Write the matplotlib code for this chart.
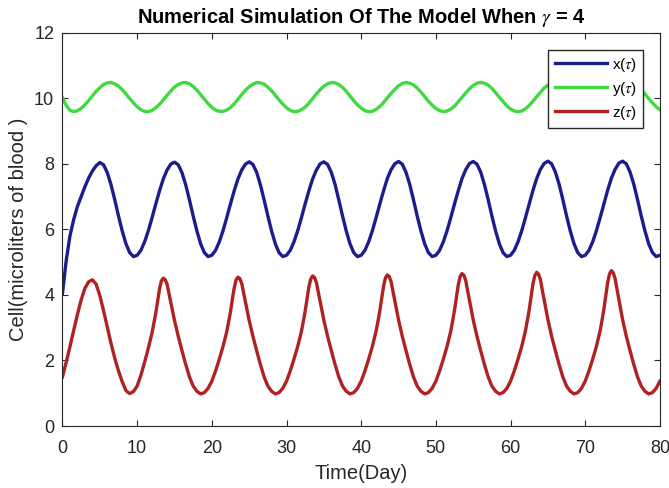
import numpy as np
import matplotlib
matplotlib.use("Agg")
import matplotlib.pyplot as plt

plt.rcParams["font.family"] = ["Liberation Sans", "DejaVu Sans"]
plt.rcParams["mathtext.fontset"] = "stix"

# time grid (days), one sample every half day
t = np.arange(0, 80.5, 0.5)

# x(tau)
x_vals = [4.05, 5.05, 5.80, 6.30, 6.70, 7.00, 7.30, 7.56, 7.78, 7.94, 8.04,
          7.97, 7.73, 7.36, 6.90, 6.41, 5.95, 5.56, 5.29, 5.17, 5.21, 5.36, 5.62, 5.96, 6.36, 6.78, 7.18, 7.54, 7.81, 7.99, 8.05,
          7.97, 7.73, 7.36, 6.90, 6.41, 5.95, 5.56, 5.29, 5.17, 5.21, 5.36, 5.62, 5.96, 6.36, 6.78, 7.18, 7.54, 7.81, 7.99, 8.06,
          7.98, 7.74, 7.36, 6.90, 6.41, 5.95, 5.56, 5.29, 5.17, 5.21, 5.36, 5.62, 5.96, 6.36, 6.78, 7.18, 7.54, 7.81, 8.00, 8.06,
          7.98, 7.74, 7.37, 6.90, 6.41, 5.95, 5.56, 5.29, 5.17, 5.21, 5.36, 5.62, 5.96, 6.36, 6.78, 7.18, 7.55, 7.82, 8.00, 8.07,
          7.99, 7.74, 7.37, 6.90, 6.41, 5.95, 5.56, 5.29, 5.17, 5.21, 5.36, 5.62, 5.96, 6.36, 6.78, 7.18, 7.55, 7.82, 8.01, 8.07,
          7.99, 7.75, 7.37, 6.91, 6.41, 5.95, 5.56, 5.29, 5.17, 5.21, 5.36, 5.62, 5.96, 6.36, 6.78, 7.19, 7.55, 7.83, 8.01, 8.08,
          8.00, 7.75, 7.38, 6.91, 6.41, 5.95, 5.56, 5.29, 5.17, 5.21, 5.36, 5.62, 5.96, 6.36, 6.78, 7.19, 7.56, 7.83, 8.02, 8.08,
          8.00, 7.75, 7.38, 6.91, 6.41, 5.95, 5.56, 5.29, 5.17, 5.21]

# y(tau) - green curve
y_vals = [10.02, 9.78, 9.63,
          9.59, 9.62, 9.69, 9.80, 9.93, 10.07, 10.21, 10.32, 10.42, 10.47, 10.48, 10.44, 10.37, 10.26, 10.13, 9.99, 9.86, 9.74, 9.65, 9.60,
          9.59, 9.63, 9.71, 9.82, 9.95, 10.09, 10.22, 10.34, 10.42, 10.47, 10.48, 10.44, 10.36, 10.25, 10.11, 9.97, 9.84, 9.72, 9.64, 9.60,
          9.60, 9.64, 9.72, 9.83, 9.97, 10.11, 10.24, 10.35, 10.43, 10.48, 10.47, 10.43, 10.34, 10.23, 10.09, 9.95, 9.82, 9.71, 9.63, 9.59,
          9.60, 9.65, 9.73, 9.85, 9.99, 10.13, 10.26, 10.37, 10.44, 10.48, 10.47, 10.42, 10.33, 10.21, 10.07, 9.93, 9.80, 9.70, 9.62, 9.59,
          9.60, 9.66, 9.75, 9.87, 10.01, 10.15, 10.27, 10.38, 10.45, 10.48, 10.46, 10.41, 10.31, 10.19, 10.05, 9.91, 9.79, 9.69, 9.62, 9.59,
          9.61, 9.67, 9.76, 9.89, 10.03, 10.16, 10.29, 10.39, 10.46, 10.48, 10.46, 10.40, 10.30, 10.17, 10.03, 9.90, 9.77, 9.67, 9.61, 9.59,
          9.61, 9.68, 9.78, 9.91, 10.05, 10.18, 10.31, 10.40, 10.46, 10.48, 10.45, 10.38, 10.28, 10.15, 10.01, 9.88, 9.76, 9.66, 9.60, 9.59,
          9.62, 9.69, 9.80, 9.93, 10.06, 10.20, 10.32, 10.41, 10.47, 10.48, 10.44, 10.37, 10.26, 10.13, 9.99, 9.86, 9.74, 9.65]

# z(tau) - red curve, extra quarter-day readings around the narrow peaks
z_peaks = [13.5, 23.5, 33.5, 43.5, 53.5, 63.5, 73.5]
z_extra = [p + d for p in z_peaks for d in (-1.25, -0.75, -0.25, 0.25, 0.75, 1.25)]
z_t = np.sort(np.concatenate([t, z_extra]))
z_vals = [1.50, 1.95, 2.42, 2.92, 3.40, 3.85, 4.20, 4.40, 4.46, 4.33, 3.98, 3.52, 3.02, 2.52, 2.07, 1.68, 1.35, 1.08, 0.99, 1.05,
          1.22, 1.55, 1.95, 2.38, 2.85, 3.15, 3.46, 3.83, 4.19, 4.43, 4.51,
          4.47, 4.33, 4.05, 3.78, 3.50, 3.22, 2.74, 2.30, 1.88, 1.50, 1.22, 1.06, 0.98, 1.02, 1.15, 1.37, 1.68, 2.04, 2.43, 2.88, 3.18, 3.49, 3.87, 4.22, 4.46, 4.54,
          4.50, 4.35, 4.07, 3.79, 3.51, 3.22, 2.74, 2.30, 1.88, 1.50, 1.22, 1.06, 0.98, 1.02, 1.15, 1.37, 1.68, 2.04, 2.43, 2.89, 3.19, 3.51, 3.89, 4.25, 4.49, 4.58,
          4.53, 4.38, 4.09, 3.81, 3.52, 3.23, 2.74, 2.30, 1.88, 1.50, 1.22, 1.06, 0.98, 1.02, 1.15, 1.37, 1.68, 2.04, 2.43, 2.90, 3.20, 3.52, 3.91, 4.28, 4.52, 4.61,
          4.56, 4.41, 4.11, 3.82, 3.53, 3.24, 2.74, 2.30, 1.88, 1.50, 1.22, 1.06, 0.98, 1.02, 1.15, 1.37, 1.68, 2.04, 2.43, 2.90, 3.21, 3.54, 3.93, 4.31, 4.56, 4.65,
          4.60, 4.44, 4.13, 3.84, 3.54, 3.24, 2.74, 2.30, 1.88, 1.50, 1.22, 1.06, 0.98, 1.02, 1.15, 1.37, 1.68, 2.04, 2.43, 2.91, 3.22, 3.55, 3.95, 4.34, 4.59, 4.69,
          4.63, 4.47, 4.15, 3.85, 3.55, 3.25, 2.74, 2.30, 1.88, 1.50, 1.22, 1.06, 0.98, 1.02, 1.15, 1.37, 1.68, 2.04, 2.43, 2.91, 3.23, 3.57, 3.98, 4.37, 4.64, 4.74,
          4.68, 4.50, 4.18, 3.87, 3.56, 3.25, 2.74, 2.30, 1.88, 1.50, 1.22, 1.06, 0.98, 1.02, 1.15, 1.37]

x_ticks = [0, 10, 20, 30, 40, 50, 60, 70, 80]
y_ticks = [0, 2, 4, 6, 8, 10, 12]

fig = plt.figure(figsize=(6.69, 4.88), dpi=100)
ax = fig.add_axes([0.0934, 0.127, 0.893, 0.806])

ax.plot(t, x_vals, color="#1c1c8c", lw=2.4, label="x($\\tau$)")
ax.plot(t, y_vals, color="#40da40", lw=2.4, label="y($\\tau$)")
ax.plot(z_t, z_vals, color="#b02222", lw=2.4, label="z($\\tau$)")

ax.set_xlim(0, 80)
ax.set_ylim(0, 12)
ax.set_xticks(x_ticks)
ax.set_yticks(y_ticks)
ax.tick_params(direction="in", top=True, right=True, length=4, width=0.8,
               labelsize=13, colors="#262626")
ax.tick_params(axis="x", pad=10)
ax.tick_params(axis="y", pad=6)
for s in ax.spines.values():
    s.set_color("#262626")
    s.set_linewidth(0.8)

ax.set_xlabel("Time(Day)", fontsize=14.5, color="#262626", labelpad=5)
ax.set_ylabel("Cell(microliters of blood )", fontsize=14.5, color="#262626", labelpad=4)
ax.set_title("Numerical Simulation Of The Model When $\\gamma$ = 4",
             fontsize=14.5, fontweight="bold", pad=7)

ax.legend(loc="upper right", fontsize=11, handlelength=3.4, handletextpad=0.35,
          borderpad=0.4, labelspacing=0.4, borderaxespad=1.1,
          fancybox=False, edgecolor="#262626", framealpha=1)

fig.savefig("out.png", dpi=100)
